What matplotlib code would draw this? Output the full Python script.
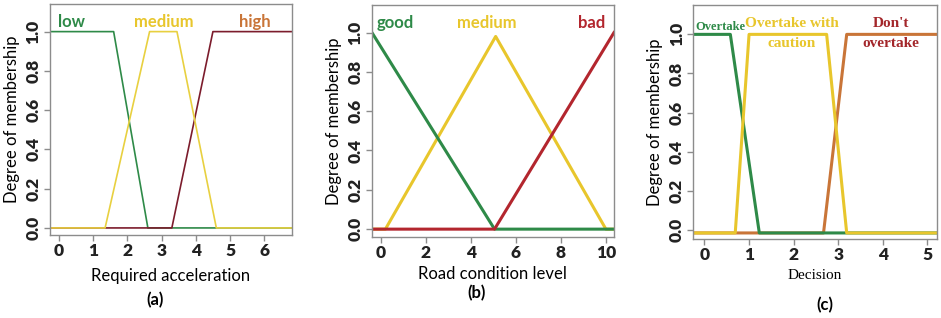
import matplotlib.pyplot as plt

# (a) required acceleration
acc_low_x = [-0.3, 1.6, 2.6, 6.9]
acc_low_y = [1, 1, 0, 0]
acc_med_x = [-0.3, 1.35, 2.65, 3.45, 4.6, 6.9]
acc_med_y = [0, 0, 1, 1, 0, 0]
acc_high_x = [-0.3, 3.3, 4.5, 6.9]
acc_high_y = [0, 0, 1, 1]

# (b) road condition level
road_good_x = [-0.4, 5.05, 10.4]
road_good_y = [1, 0, 0]
road_med_x = [-0.4, 0.2, 5.1, 10.0, 10.4]
road_med_y = [0, 0, 0.98, 0, 0]
road_bad_x = [-0.4, 5.05, 10.36]
road_bad_y = [0, 0, 1]

# (c) decision
dec_over_x = [-0.3, 0.58, 1.23, 5.3]
dec_over_y = [1, 1, -0.015, -0.015]
dec_caut_x = [-0.3, 0.69, 1.0, 2.74, 3.19, 5.3]
dec_caut_y = [-0.015, -0.015, 1, 1, -0.015, -0.015]
dec_dont_x = [-0.3, 2.67, 3.19, 5.3]
dec_dont_y = [-0.015, -0.015, 1, 1]

GREEN = '#2e8a48'
YELLOW = '#e8c62c'
RED = '#b3262e'
MAROON = '#7c1c2c'
ORANGE = '#c97538'
GRAY = '#8c8c8c'

fig = plt.figure(figsize=(9.41, 3.18), dpi=100)
ax_a = fig.add_axes([0.0531, 0.261, 0.2572, 0.726])
ax_b = fig.add_axes([0.395, 0.2547, 0.2575, 0.7296])
ax_c = fig.add_axes([0.7368, 0.2484, 0.2587, 0.7358])

# panel a
ax_a.plot(acc_low_x, acc_low_y, color=GREEN, lw=1.2)
ax_a.plot(acc_high_x, acc_high_y, color=MAROON, lw=1.2)
ax_a.plot(acc_med_x, acc_med_y, color='#e8d040', lw=1.2)
ax_a.set_xlim(-0.26, 6.81)
ax_a.set_ylim(-0.036, 1.14)
ax_a.set_xticks(range(0, 7))
ax_a.text(0.38, 1.05, 'low', color=GREEN, fontsize=12, fontweight='bold',
          family='Lato', ha='center', va='center')
ax_a.text(3.07, 1.05, 'medium', color=YELLOW, fontsize=12, fontweight='bold',
          family='Lato', ha='center', va='center')
ax_a.text(5.73, 1.05, 'high', color=ORANGE, fontsize=12, fontweight='bold',
          family='Lato', ha='center', va='center')
ax_a.set_xlabel('Required acceleration', fontsize=12, family='Lato', labelpad=6)

# panel b
ax_b.plot(road_med_x, road_med_y, color=YELLOW, lw=2.2)
ax_b.plot(road_good_x, road_good_y, color=GREEN, lw=2.2)
ax_b.plot(road_bad_x, road_bad_y, color=RED, lw=2.2)
ax_b.set_xlim(-0.41, 10.36)
ax_b.set_ylim(-0.04, 1.14)
ax_b.set_xticks(range(0, 11, 2))
ax_b.text(0.62, 1.047, 'good', color=GREEN, fontsize=12, fontweight='bold',
          family='Lato', ha='center', va='center')
ax_b.text(4.7, 1.047, 'medium', color=YELLOW, fontsize=12, fontweight='bold',
          family='Lato', ha='center', va='center')
ax_b.text(9.36, 1.047, 'bad', color=RED, fontsize=12, fontweight='bold',
          family='Lato', ha='center', va='center')
ax_b.set_xlabel('Road condition level', fontsize=12, family='Lato', labelpad=3)

# panel c
ax_c.plot(dec_dont_x, dec_dont_y, color=ORANGE, lw=2.2)
ax_c.plot(dec_over_x, dec_over_y, color=GREEN, lw=2.2)
ax_c.plot(dec_caut_x, dec_caut_y, color=YELLOW, lw=2.2)
ax_c.set_xlim(-0.25, 5.21)
ax_c.set_ylim(-0.046, 1.15)
ax_c.set_xticks(range(0, 6))
serif_kw = dict(fontweight='bold', family='Liberation Serif',
                ha='center', va='center')
ax_c.text(0.35, 1.04, 'Overtake', color=GREEN, fontsize=9, **serif_kw)
ax_c.text(1.95, 1.058, 'Overtake with', color=YELLOW, fontsize=11, **serif_kw)
ax_c.text(1.95, 0.955, 'caution', color=YELLOW, fontsize=11, **serif_kw)
ax_c.text(4.19, 1.058, "Don't", color='#a3262a', fontsize=11, **serif_kw)
ax_c.text(4.19, 0.955, 'overtake', color='#a3262a', fontsize=11, **serif_kw)
ax_c.set_xlabel('Decision', fontsize=11, family='Liberation Serif', labelpad=4)

for ax in (ax_a, ax_b, ax_c):
    for s in ax.spines.values():
        s.set_color(GRAY)
        s.set_linewidth(1.0)
    ax.set_yticks([0, 0.2, 0.4, 0.6, 0.8, 1.0])
    ax.set_yticklabels(['0.0', '0.2', '0.4', '0.6', '0.8', '1.0'],
                       rotation=90, va='center')
    ax.tick_params(colors='#222222', labelsize=12.5, length=4, width=1,
                   color=GRAY, pad=2)
    for lab in ax.get_xticklabels() + ax.get_yticklabels():
        lab.set_fontweight('heavy')
        lab.set_family('Lato')
    ax.set_ylabel('Degree of membership', fontsize=12, family='Lato', labelpad=4)

fig.text(155 / 941, 1 - 300 / 318, '(a)', fontsize=12, fontweight='bold',
         family='Lato', ha='center', va='center')
fig.text(477 / 941, 1 - 293 / 318, '(b)', fontsize=12, fontweight='bold',
         family='Lato', ha='center', va='center')
fig.text(825 / 941, 1 - 305 / 318, '(c)', fontsize=12, fontweight='bold',
         family='Lato', ha='center', va='center')

fig.savefig('out.png', dpi=100)
